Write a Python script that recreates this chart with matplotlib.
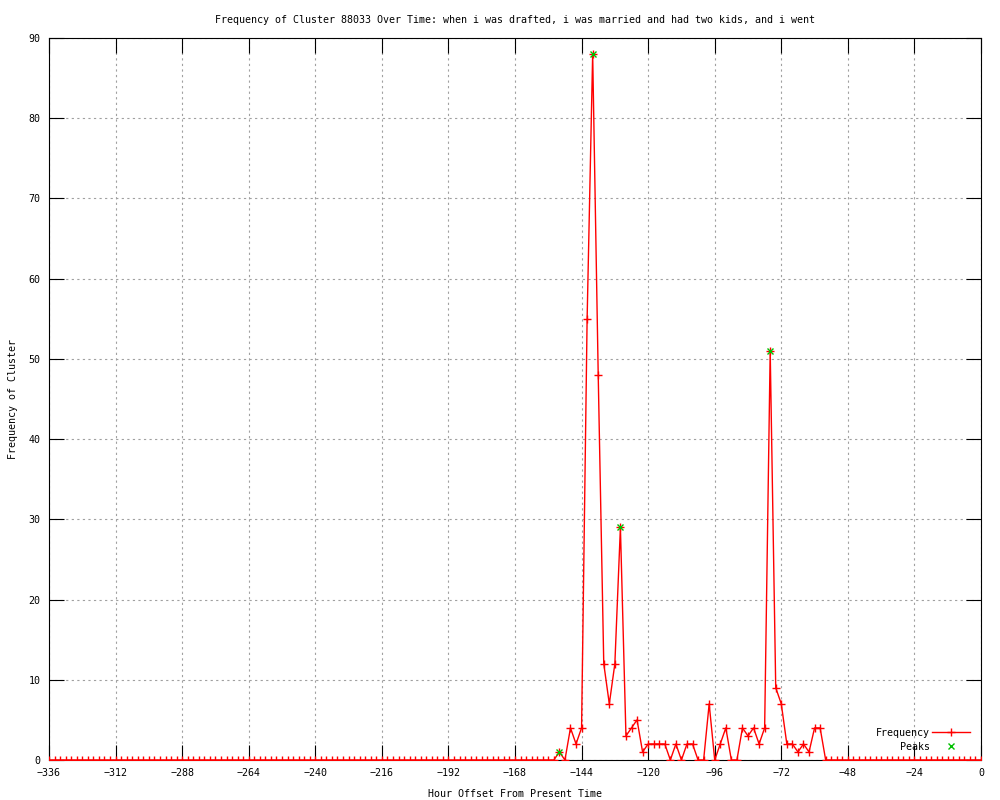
import numpy as np
import matplotlib
matplotlib.use("Agg")
import matplotlib.pyplot as plt

title = "Frequency of Cluster 88033 Over Time: when i was drafted, i was married and had two kids, and i went"
xlabel = "Hour Offset From Present Time"
ylabel = "Frequency of Cluster"

hours = list(range(-336, 1, 2))
frequency = ([0] * 92 +
             [1, 0, 4, 2, 4, 55, 88, 48, 12, 7,
              12, 29, 3, 4, 5, 1, 2, 2, 2, 2,
              0, 2, 0, 2, 2, 0, 0, 7, 0, 2,
              4, 0, 0, 4, 3, 4, 2, 4, 51, 9,
              7, 2, 2, 1, 2, 1, 4, 4, 0] +
             [0] * 28)
peak_hours = [-152, -140, -130, -76]
peak_values = [1, 88, 29, 51]
xticks = list(range(-336, 1, 24))
yticks = list(range(0, 91, 10))

plt.rcParams['font.family'] = ['DejaVu Sans Mono']
fs = 7.2

fig = plt.figure(figsize=(10, 8), dpi=100)
ax = fig.add_axes([0.049, 0.05, 0.932, 0.9025])

ax.plot(hours, frequency, color='red', lw=1.0, marker='+', ms=5.5, mew=1.0,
        label='Frequency', zorder=3)
ax.plot(peak_hours, peak_values, ls='none', marker='x', color='#00c000',
        ms=5, mew=1.0, label='Peaks', zorder=4)

ax.set_xlim(-336, 0)
ax.set_ylim(0, 90)
ax.set_xticks(xticks)
ax.set_yticks(yticks)
ax.tick_params(direction='in', length=11, width=0.8, color='black',
               labelsize=fs, top=True, right=True, pad=6)
ax.grid(True, color='#a0a0a0', linestyle=(0, (2, 3)), linewidth=0.8)
for s in ax.spines.values():
    s.set_linewidth(0.8)
    s.set_color('black')

ax.set_title(title, fontsize=fs, pad=11)
ax.set_xlabel(xlabel, fontsize=fs, labelpad=8)
ax.set_ylabel(ylabel, fontsize=fs, labelpad=8)

leg = ax.legend(loc='lower right', bbox_to_anchor=(0.996, 0.002), frameon=False,
                markerfirst=False, fontsize=fs, handlelength=3.8,
                handletextpad=0.2, labelspacing=0.4, borderpad=0.2)
for t in leg.get_texts():
    t.set_ha('right')

fig.savefig('out.png', dpi=100)
